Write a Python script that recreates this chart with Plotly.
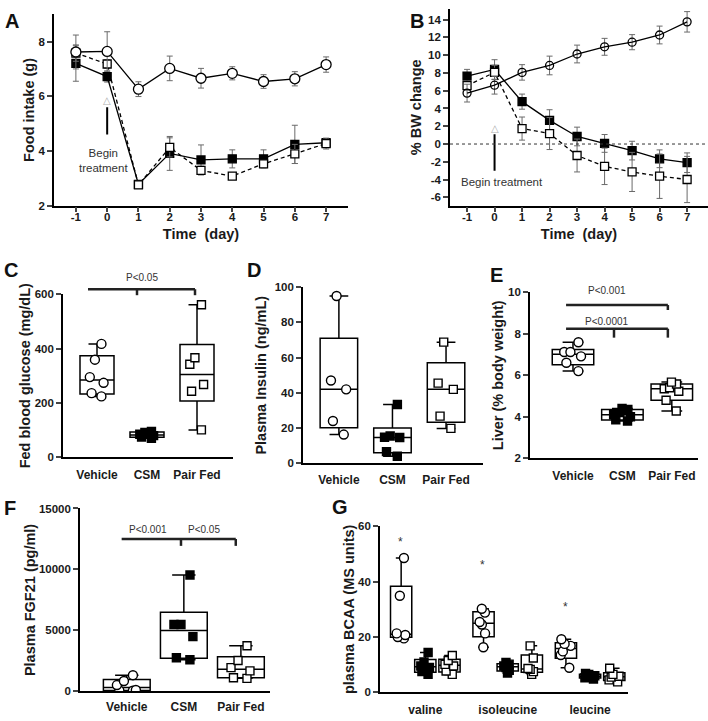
import plotly.graph_objects as go

W, H = 708, 721
FONT = "Liberation Sans, Arial, sans-serif"

# Dados
days = [-1, 0, 1, 2, 3, 4, 5, 6, 7]

food_vehicle = [7.62, 7.64, 6.26, 7.02, 6.66, 6.84, 6.54, 6.64, 7.16]
food_vehicle_err = [0.62, 0.72, 0.27, 0.45, 0.36, 0.24, 0.25, 0.26, 0.28]
food_csm = [7.2, 6.72, 2.78, 3.91, 3.67, 3.71, 3.71, 4.24, 4.3]
food_csm_err = [0.65, 0.2, 0.05, 0.62, 0.55, 0.33, 0.33, 0.7, 0.15]
food_pf = [7.58, 7.18, 2.76, 4.13, 3.29, 3.08, 3.53, 3.89, 4.27]
food_pf_err = [0.3, 0.15, 0.05, 0.35, 0.15, 0.05, 0.1, 0.35, 0.2]

bw_vehicle = [5.73, 6.62, 8.06, 8.84, 10.13, 10.94, 11.46, 12.27, 13.75]
bw_vehicle_err = [1.0, 1.0, 0.87, 1.05, 1.0, 0.95, 0.85, 1.0, 1.15]
bw_csm = [7.65, 8.39, 4.77, 2.66, 0.85, 0.07, -0.74, -1.66, -2.1]
bw_csm_err = [0.75, 1.1, 0.85, 1.2, 1.05, 1.0, 1.05, 1.0, 1.1]
bw_pf = [6.58, 8.06, 1.74, 1.18, -1.29, -2.51, -3.14, -3.62, -3.99]
bw_pf_err = [0.5, 0.8, 1.3, 1.8, 1.85, 2.05, 2.2, 2.5, 2.6]

groups = ["Vehicle", "CSM", "Pair Fed"]

glucose_vehicle = [417, 359, 295, 274, 236, 224]
glucose_csm = [95, 92, 85, 80, 75, 70]
glucose_pf = [561, 366, 342, 268, 243, 101]

insulin_vehicle = [95, 47, 42, 24, 16.3]
insulin_csm = [33.4, 15.5, 14.8, 14.6, 6.6, 4]
insulin_pf = [68.8, 45.5, 42, 26.8, 19.8]

liver_vehicle = [7.59, 7.12, 7.12, 6.91, 6.60, 6.20]
liver_csm = [4.4, 4.35, 4.2, 4.1, 4.0, 3.85, 3.8]
liver_pf = [5.67, 5.58, 5.4, 5.35, 5.23, 4.8, 4.28]

fgf21_vehicle = [1330, 850, 520, 120, 70, 50]
fgf21_csm = [9545, 5481, 5481, 4492, 2754, 2594]
fgf21_pf = [3743, 2540, 1952, 1684, 1123, 1070]

aminoacids = ["valine", "isoleucine", "leucine"]
valine_vehicle = [48.5, 34.9, 21.3, 20.7, 20.0, 19.5]
valine_csm = [14.4, 11, 9.5, 9, 7.5, 6.5]
valine_pf = [13.3, 11.5, 10.1, 9.5, 7.7, 6.5]
isoleucine_vehicle = [30.2, 28.8, 25.4, 24.5, 21.3, 16.3]
isoleucine_csm = [10.8, 10.2, 9.5, 9.0, 8.0, 7.0]
isoleucine_pf = [16.8, 12.4, 8.6, 8.3, 7.5, 6.5]
leucine_vehicle = [19.2, 17.5, 16.8, 14.8, 13.5, 8.9]
leucine_csm = [6.8, 6.5, 6.0, 5.7, 5.3, 4.8]
leucine_pf = [8.7, 6.5, 5.8, 5.5, 4.5, 3.8]

# posição de cada painel em pixels (esq, dir, topo, base) e faixa dos eixos
panels = {
    "A": dict(ax="", px=(54, 348, 8.4, 203), xr=[-1.7, 7.7], yr=[2, 9]),
    "B": dict(ax="2", px=(450, 708, 3, 203), xr=[-1.62, 7.76], yr=[-6.93, 15.2]),
    "C": dict(ax="3", px=(63, 233, 293, 459), xr=[-0.68, 2.72], yr=[0, 600]),
    "D": dict(ax="4", px=(303, 483, 286, 465), xr=[-0.67, 2.69], yr=[0, 100]),
    "E": dict(ax="5", px=(530, 698, 291, 460), xr=[-0.87, 2.53], yr=[2, 10]),
    "F": dict(ax="6", px=(80, 270, 511, 697), xr=[-0.82, 2.51], yr=[0, 15000]),
    "G": dict(ax="7", px=(380, 628, 529, 698), xr=[-0.55, 2.46], yr=[0, 60]),
}


def dom(p):
    l, r, t, b = p["px"]
    return [l / W, r / W], [1 - b / H, 1 - t / H]


def ypaper(key, v):
    p = panels[key]
    _, yd = dom(p)
    r0, r1 = p["yr"]
    return yd[0] + (v - r0) / (r1 - r0) * (yd[1] - yd[0])


# quartis como no Prism: posição (n+1)p com interpolação
def quartil(v, p):
    s = sorted(v)
    n = len(s)
    h = (n + 1) * p
    lo = int(h)
    if lo < 1:
        return s[0]
    if lo >= n:
        return s[-1]
    return s[lo - 1] + (h - lo) * (s[lo] - s[lo - 1])


fig = go.Figure()


def add_line(key, y, err, symbol, fill, dash, size):
    a = panels[key]["ax"]
    fig.add_trace(go.Scatter(
        x=days, y=y, mode="lines+markers",
        error_y=dict(type="data", array=err, color="#6a6a6a", thickness=1, width=3),
        line=dict(color="black", width=1.3, dash=dash),
        marker=dict(symbol=symbol, size=size, color=fill, line=dict(color="black", width=1.3)),
        xaxis="x" + a, yaxis="y" + a, showlegend=False, cliponaxis=False))


add_line("A", food_csm, food_csm_err, "square", "black", "solid", 8)
add_line("A", food_pf, food_pf_err, "square", "white", "4px,3px", 8)
add_line("A", food_vehicle, food_vehicle_err, "circle", "white", "solid", 10)

add_line("B", bw_csm, bw_csm_err, "square", "black", "solid", 8)
add_line("B", bw_pf, bw_pf_err, "square", "white", "4px,3px", 8)
add_line("B", bw_vehicle, bw_vehicle_err, "circle-open", "black", "solid", 8)

styles = {
    "Vehicle": ("circle", "white", 9),
    "CSM": ("square", "black", 8),
    "Pair Fed": ("square", "white", 8),
}


def add_box(key, cats, samples, grp, width=None):
    a = panels[key]["ax"]
    sym, fill, size = styles[grp]
    # caixa com estatísticas (min, Q1, mediana, Q3, max)
    fig.add_trace(go.Box(
        x=cats,
        q1=[quartil(v, 0.25) for v in samples],
        median=[quartil(v, 0.5) for v in samples],
        q3=[quartil(v, 0.75) for v in samples],
        lowerfence=[min(v) for v in samples],
        upperfence=[max(v) for v in samples],
        boxpoints=False, fillcolor="white",
        line=dict(color="black", width=1.5), whiskerwidth=0.5,
        width=width, offsetgroup=grp, name=grp, hoverinfo="skip",
        xaxis="x" + a, yaxis="y" + a, showlegend=False))
    # pontos individuais
    xs, ys = [], []
    for c, v in zip(cats, samples):
        xs += [c] * len(v)
        ys += v
    fig.add_trace(go.Box(
        x=xs, y=ys, boxpoints="all", jitter=0.5, pointpos=0,
        fillcolor="rgba(0,0,0,0)", line=dict(color="rgba(0,0,0,0)", width=0), whiskerwidth=0,
        marker=dict(symbol=sym, size=size, color=fill, line=dict(color="black", width=1.4)),
        width=width, offsetgroup=grp, name=grp,
        xaxis="x" + a, yaxis="y" + a, showlegend=False))


box_sets = [
    ("C", [glucose_vehicle, glucose_csm, glucose_pf], 0.68),
    ("D", [insulin_vehicle, insulin_csm, insulin_pf], 0.7),
    ("E", [liver_vehicle, liver_csm, liver_pf], 0.84),
    ("F", [fgf21_vehicle, fgf21_csm, fgf21_pf], 0.82),
]
for key, vals, w in box_sets:
    for g, v in zip(groups, vals):
        add_box(key, [g], [v], g, w)

bcaa = {
    "Vehicle": [valine_vehicle, isoleucine_vehicle, leucine_vehicle],
    "CSM": [valine_csm, isoleucine_csm, leucine_csm],
    "Pair Fed": [valine_pf, isoleucine_pf, leucine_pf],
}
for g in groups:
    add_box("G", aminoacids, bcaa[g], g)

# eixos
tickfont = dict(family=FONT, size=11.5, color="#1a1a1a", weight="bold")
titlefont = dict(family=FONT, size=14.5, color="#1a1a1a", weight="bold")
base = dict(showline=True, linecolor="black", linewidth=1.6, showgrid=False,
            zeroline=False, tickfont=tickfont, fixedrange=True)

ytitles = {
    "A": ("Food intake (g)", [2, 4, 6, 8]),
    "B": ("% BW change", list(range(-6, 15, 2))),
    "C": ("Fed blood glucose (mg/dL)", [0, 200, 400, 600]),
    "D": ("Plasma Insulin (ng/mL)", [0, 20, 40, 60, 80, 100]),
    "E": ("Liver (% body weight)", [2, 4, 6, 8, 10]),
    "F": ("Plasma FGF21 (pg/ml)", [0, 5000, 10000, 15000]),
    "G": ("plasma BCAA (MS units)", [0, 20, 40, 60]),
}
cat_standoff = {"C": 5, "D": 5, "E": 5, "F": 3, "G": 5}
ytitle_standoff = {"A": 0, "B": 3, "C": 1, "D": 5, "E": 1, "F": 0, "G": 0}

layout_axes = {}
for key, p in panels.items():
    a = p["ax"]
    xd, yd = dom(p)
    ytxt, yticks = ytitles[key]
    xa = dict(base, domain=xd, range=p["xr"], anchor="y" + a)
    if key in ("A", "B"):
        xa.update(tickvals=days, ticktext=[str(d) for d in days], ticks="outside",
                  ticklen=5, tickwidth=1.5, ticklabelstandoff=-5,
                  title=dict(text="Time\u00a0 (day)", font=titlefont, standoff=7))
    else:
        cats = aminoacids if key == "G" else groups
        xa.update(type="category", categoryorder="array", categoryarray=cats,
                  ticks="", ticklabelstandoff=cat_standoff[key],
                  tickfont=dict(family=FONT, size=12, color="#1a1a1a", weight="bold"))
    ya = dict(base, domain=yd, range=p["yr"], anchor="x" + a, tickvals=yticks,
              ticktext=[str(t) for t in yticks],
              ticks="outside", ticklen=5, tickwidth=1.5,
              title=dict(text=ytxt, font=titlefont, standoff=ytitle_standoff[key]))
    layout_axes["xaxis" + a] = xa
    layout_axes["yaxis" + a] = ya

fig.update_layout(**layout_axes)

# anotações e colchetes de significância
shapes = []
annotations = []
BR = dict(color="#222", width=2.5)
PFONT = dict(family=FONT, size=10, color="#333")


def bracket(key, x0, x1, y, drops, ydrop):
    a = panels[key]["ax"]
    yp, yd = ypaper(key, y), ypaper(key, ydrop)
    shapes.append(dict(type="line", xref="x" + a, yref="paper", x0=x0, x1=x1, y0=yp, y1=yp, line=BR))
    for xd_ in drops:
        shapes.append(dict(type="line", xref="x" + a, yref="paper", x0=xd_, x1=xd_, y0=yp, y1=yd, line=BR))


def ptext(key, x, y, txt, size=10):
    a = panels[key]["ax"]
    annotations.append(dict(xref="x" + a, yref="paper", x=x, y=ypaper(key, y), text=txt,
                            showarrow=False, font=dict(PFONT, size=size), xanchor="center", yanchor="middle"))


bracket("C", -0.18, 1.96, 618, [0.8, 1.96], 596)
ptext("C", 0.9, 661, "P<0.05")

bracket("E", -0.14, 1.92, 9.38, [1.92], 9.14)
ptext("E", 0.69, 10.1, "P<0.001")
bracket("E", -0.14, 1.92, 8.24, [0.83, 1.92], 7.81)
ptext("E", 0.69, 8.57, "P<0.0001")

bracket("F", -0.09, 1.91, 12500, [0.95, 1.91], 11935)
ptext("F", 0.37, 13306, "P<0.001")
ptext("F", 1.35, 13306, "P<0.05")

for i, yv in enumerate([54.2, 45.9, 30.8]):
    ptext("G", i - 0.3, yv, "*", size=12)

# seta "Begin treatment"
shapes.append(dict(type="line", xref="x", yref="y", x0=0, x1=0, y0=4.6, y1=5.6,
                   line=dict(color="black", width=2)))
annotations.append(dict(xref="x", yref="y", x=0, y=5.85, text="\u25b3", showarrow=False,
                        font=dict(family="DejaVu Sans", size=10, color="#b0b0b0")))
annotations.append(dict(xref="x", yref="y", x=-0.13, y=3.64, text="Begin<br>treatment",
                        showarrow=False, font=dict(family=FONT, size=11.5, color="#333")))

shapes.append(dict(type="line", xref="x2", yref="y2", x0=0, x1=0, y0=-3.0, y1=1.1,
                   line=dict(color="black", width=2)))
annotations.append(dict(xref="x2", yref="y2", x=0, y=1.75, text="\u25b3", showarrow=False,
                        font=dict(family="DejaVu Sans", size=10, color="#b0b0b0")))
annotations.append(dict(xref="x2", yref="y2", x=-1.31, y=-4.25, text="Begin treatment",
                        xanchor="left", showarrow=False, font=dict(family=FONT, size=11.5, color="#333")))
shapes.append(dict(type="line", xref="x2 domain", yref="y2", x0=0, x1=1, y0=0, y1=0,
                   line=dict(color="#333", width=1, dash="dot")))

# letras dos painéis
letters = {"A": (3, 2), "B": (408, 2), "C": (2, 255), "D": (245, 255),
           "E": (488, 260), "F": (2, 497), "G": (330, 496)}
for k, (lx, ly) in letters.items():
    annotations.append(dict(xref="paper", yref="paper", x=lx / W, y=1 - ly / H, text="<b>%s</b>" % k,
                            xanchor="left", yanchor="top", showarrow=False,
                            font=dict(family=FONT, size=20, color="#111")))

fig.update_layout(
    width=W, height=H, margin=dict(l=0, r=0, t=0, b=0),
    paper_bgcolor="white", plot_bgcolor="white",
    boxmode="group", boxgap=0.12, boxgroupgap=0.12,
    shapes=shapes, annotations=annotations,
    font=dict(family=FONT, color="#1a1a1a"),
    showlegend=False,
)

fig.write_html("out.html", config={"displayModeBar": False},
               post_script="document.body.style.margin='0px';")
